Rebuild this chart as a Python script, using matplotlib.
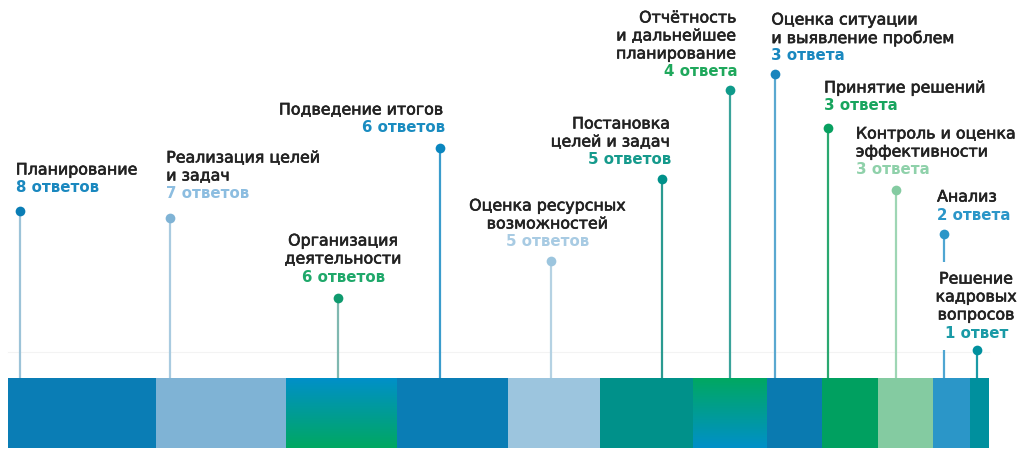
import matplotlib
matplotlib.use("Agg")
import matplotlib.pyplot as plt
import matplotlib.patheffects as pe
import numpy as np
from matplotlib.colors import LinearSegmentedColormap

labels = ["Планирование", "Реализация целей\nи задач", "Организация\nдеятельности",
          "Подведение итогов", "Оценка ресурсных\nвозможностей", "Постановка\nцелей и задач",
          "Отчётность\nи дальнейшее\nпланирование", "Оценка ситуации\nи выявление проблем",
          "Принятие решений", "Контроль и оценка\nэффективности", "Анализ",
          "Решение\nкадровых\nвопросов"]
counts = [8, 7, 6, 6, 5, 5, 4, 3, 3, 3, 2, 1]
count_labels = ["8 ответов", "7 ответов", "6 ответов", "6 ответов", "5 ответов", "5 ответов",
                "4 ответа", "3 ответа", "3 ответа", "3 ответа", "2 ответа", "1 ответ"]

# styles
seg_colors = ["#0a7db5", "#7fb3d5", None, "#0a7db5", "#9cc5de", "#00918a",
              None, "#0a7ab0", "#00a060", "#84cba1", "#2b96c8", "#00909e"]
gradients = {2: ("#0090c8", "#00a862"), 6: ("#00a862", "#0090c8")}
pin_colors = ["#0a7db5", "#7fb3d5", "#0f9a6e", "#0a86bf", "#9cc5de", "#00918a",
              "#0f9a8a", "#1a85bd", "#08a060", "#84cba1", "#2b96c8", "#00909e"]
line_colors = ["#9cc3d8", "#a9cbe0", "#7fb8b0", "#3a9ccc", "#b5d2e3", "#2a9a90",
               "#3aa39a", "#5aa8d0", "#2aa870", "#9ed6b4", "#4fa6d2", "#1a9aa6"]
num_colors = ["#1a88bf", "#8cbde0", "#1fa86a", "#1a8cc0", "#a8cbe3", "#159a8c",
              "#1fa85c", "#1a88bf", "#18a55e", "#8fd1aa", "#2b96c8", "#1a9aa6"]
pin_frac = [0.08, 0.11, 0.47, 0.39, 0.47, 0.67, 0.5, 0.16, 0.11, 0.33, 0.3, 0.4]
dot_y = [211, 218, 298, 148, 261, 179, 90, 74, 128, 190, 234, 350]
# text anchor (x offset px from pin, top-line y, alignment)
text_dx = [-4, -4, 6, 5, -3, 9, 8, -4, -4, -40, -7, -1]
text_y = [170, 158, 241, 110, 206, 124, 18, 20, 88, 134, 197, 279]
text_ha = ["left", "left", "center", "right", "center", "right", "right", "left",
           "left", "left", "left", "center"]

U = 18.5  # px per answer
X0 = 8
W, H = 1023, 451
fig = plt.figure(figsize=(W / 100, H / 100), dpi=100)
ax = fig.add_axes([0, 0, 1, 1])
ax.set_xlim(-X0 / U, (W - X0) / U)
ax.set_ylim(H, 0)
ax.axis("off")

plt.rcParams['font.family'] = ['DejaVu Sans']

bar_top, bar_h = 378, 70
lefts = np.concatenate([[0], np.cumsum(counts)[:-1]])

# faint guide line
ax.plot([0, sum(counts)], [352, 352], color="#f3f3f3", lw=0.8, zorder=0)

for i, (l, c) in enumerate(zip(lefts, counts)):
    if i in gradients:
        cmap = LinearSegmentedColormap.from_list("g", gradients[i])
        grad = np.linspace(0, 1, 100).reshape(-1, 1)
        ax.imshow(grad, cmap=cmap, aspect="auto",
                  extent=[l, l + c, bar_top + bar_h, bar_top], zorder=2,
                  interpolation="bilinear")
    else:
        ax.barh(bar_top + bar_h / 2, c, left=l, height=bar_h, color=seg_colors[i],
                edgecolor="none", zorder=2)

ax.set_xlim(-X0 / U, (W - X0) / U)
ax.set_ylim(H, 0)

fs = 11.4
fs_num = 10.8
txt_color = "#222222"
for i in range(len(counts)):
    px = lefts[i] + pin_frac[i] * counts[i]
    ax.plot([px, px], [bar_top, dot_y[i]], color=line_colors[i], lw=1.6, zorder=1,
            solid_capstyle="butt")
    ax.plot(px, dot_y[i], "o", ms=7, color=pin_colors[i], zorder=3, mec="none")
    tx = px + text_dx[i] / U
    lines = labels[i].split("\n")
    y = text_y[i]
    if i == 11:
        ax.add_patch(plt.Rectangle((px - 47 / U, 262), 88 / U, 88, facecolor="white",
                                   edgecolor="none", zorder=2.5))
    for ln in lines:
        ax.text(tx, y, ln, ha=text_ha[i], va="center", fontsize=fs, color=txt_color,
                fontweight="normal", zorder=4,
                path_effects=[pe.withStroke(linewidth=0.45, foreground=txt_color)])
        y += 18
    ax.text(tx, y, count_labels[i], ha=text_ha[i], va="center", fontsize=fs_num,
            color=num_colors[i], fontweight="bold", zorder=4)

fig.savefig("out.png", dpi=100)
